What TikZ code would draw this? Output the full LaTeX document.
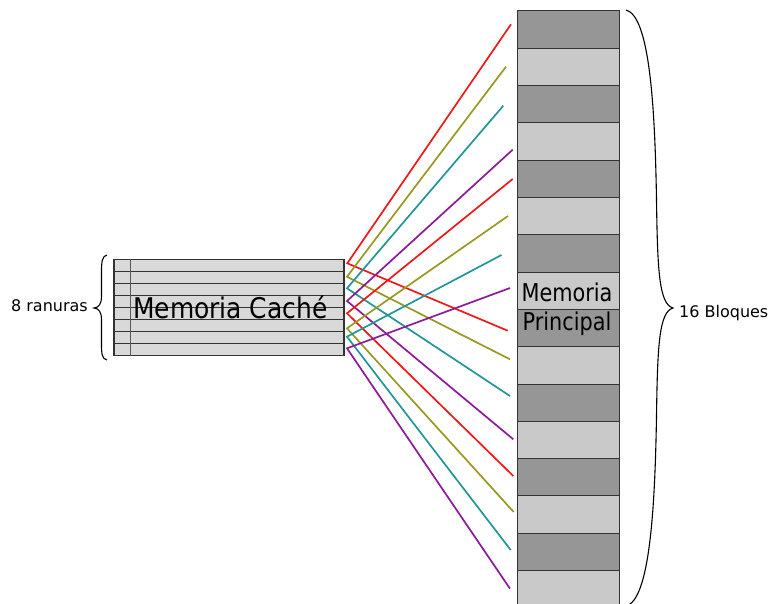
\documentclass[tikz,border=0pt]{standalone}
\usepackage{fontspec}
\setmainfont{DejaVu Sans}
\usepackage{graphicx}
\definecolor{cred}{RGB}{240,24,24}
\definecolor{colive}{RGB}{153,153,34}
\definecolor{cteal}{RGB}{34,150,150}
\definecolor{cpurple}{RGB}{140,26,153}
\definecolor{blkdark}{RGB}{150,150,150}
\definecolor{blklight}{RGB}{201,201,201}
\definecolor{cachefill}{RGB}{217,217,217}
\definecolor{edge}{RGB}{51,51,51}
\tikzset{
  blockbox/.style={draw=edge, line width=1pt, minimum width=102pt, minimum height=37.3pt, inner sep=0pt},
  rowbox/.style={draw=edge, line width=1.5pt, fill=cachefill, minimum width=230pt, minimum height=12pt, inner sep=0pt},
  wire/.style={line width=1.7pt},
  bracepath/.style={line width=1.1pt, draw=black},
  lbl/.style={inner sep=0pt, font=\fontsize{16}{18}\selectfont}
}
\begin{document}
\begin{tikzpicture}[x=1pt,y=-1pt]
\useasboundingbox (0,0) rectangle (770,604);
% main memory blocks
\foreach \k in {0,...,15}{
  \pgfmathtruncatemacro{\parity}{mod(\k,2)}
  \ifnum\parity=0
    \node[blockbox, fill=blkdark] (b\k) at (568, 29.65+37.3*\k) {};
  \else
    \node[blockbox, fill=blklight] (b\k) at (568, 29.65+37.3*\k) {};
  \fi
}
\node[anchor=base, inner sep=0pt] (mp1) at (567,301.5) {\fontsize{24.5}{26}\selectfont\scalebox{0.85}[1]{Memoria}};
\node[anchor=base, inner sep=0pt] (mp2) at (567,330.7) {\fontsize{24.5}{26}\selectfont\scalebox{0.85}[1]{Principal}};
% cache rows
\foreach \k in {0,...,7}{
  \node[rowbox] (r\k) at (229, 265.3+12*\k) {};
}
\draw[draw=black!65, line width=0.9pt] (r0.north west) ++(17.5,0) coordinate (dv1) -- (r7.south west -| dv1) coordinate (dv2);
\node[anchor=base west, inner sep=0pt] (mc) at (133,318.3) {\fontsize{28.5}{30}\selectfont\scalebox{0.875}[1]{Memoria Caché}};
% vertices near cache
\coordinate (v0) at (347.3,263.3);
\coordinate (v1) at (347,276.7);
\coordinate (v2) at (347,288.3);
\coordinate (v3) at (347,301);
\coordinate (v4) at (347,313.3);
\coordinate (v5) at (347,328.3);
\coordinate (v6) at (347,336.7);
\coordinate (v7) at (347,348.3);
% end points near memory
\coordinate (e0) at (511,24.3);
\coordinate (e1) at (506,66.7);
\coordinate (e2) at (503.3,105.7);
\coordinate (e3) at (512.7,149.7);
\coordinate (e4) at (512.7,179);
\coordinate (e5) at (508,216);
\coordinate (e6) at (501.5,255);
\coordinate (e7) at (510,288);
\coordinate (e8) at (507.7,330.7);
\coordinate (e9) at (510,359.3);
\coordinate (e10) at (510,396);
\coordinate (e11) at (513.3,439.3);
\coordinate (e12) at (513.3,476);
\coordinate (e13) at (513.7,512);
\coordinate (e14) at (510.7,550);
\coordinate (e15) at (510,588.7);
\draw[wire, cred] (e0) -- (v0) -- (e8);
\draw[wire, colive] (e1) -- (v1) -- (e9);
\draw[wire, cteal] (e2) -- (v2) -- (e10);
\draw[wire, cpurple] (e3) -- (v3) -- (e11);
\draw[wire, cred] (e4) -- (v4) -- (e12);
\draw[wire, colive] (e5) -- (v5) -- (e13);
\draw[wire, cteal] (e6) -- (v6) -- (e14);
\draw[wire, cpurple] (e7) -- (v7) -- (e15);
% left brace
\coordinate (lb1) at (107,255);
\coordinate (lbt) at (94,308);
\coordinate (lb2) at (107,360);
\draw[bracepath] (lb1) .. controls (102,256) and (101.5,262) .. (101.5,272) -- (101.5,296)
  .. controls (101.5,304) and (99,307.5) .. (lbt)
  .. controls (99,308.5) and (101.5,312) .. (101.5,320) -- (101.5,344)
  .. controls (101.5,354) and (102,359) .. (lb2);
\node[lbl, anchor=base east] (lr) at (88,311) {8 ranuras};
% right brace
\coordinate (rb1) at (626,10);
\coordinate (rbt) at (673,308);
\coordinate (rb2) at (626,606);
\draw[bracepath] (rb1) .. controls (650,16) and (655,110) .. (656.5,200)
  .. controls (657.5,270) and (659,304) .. (rbt)
  .. controls (659,312) and (657.5,346) .. (656.5,416)
  .. controls (655,506) and (650,600) .. (rb2);
\node[lbl, anchor=base west] (rl) at (679,317) {16 Bloques};
\end{tikzpicture}
\end{document}
